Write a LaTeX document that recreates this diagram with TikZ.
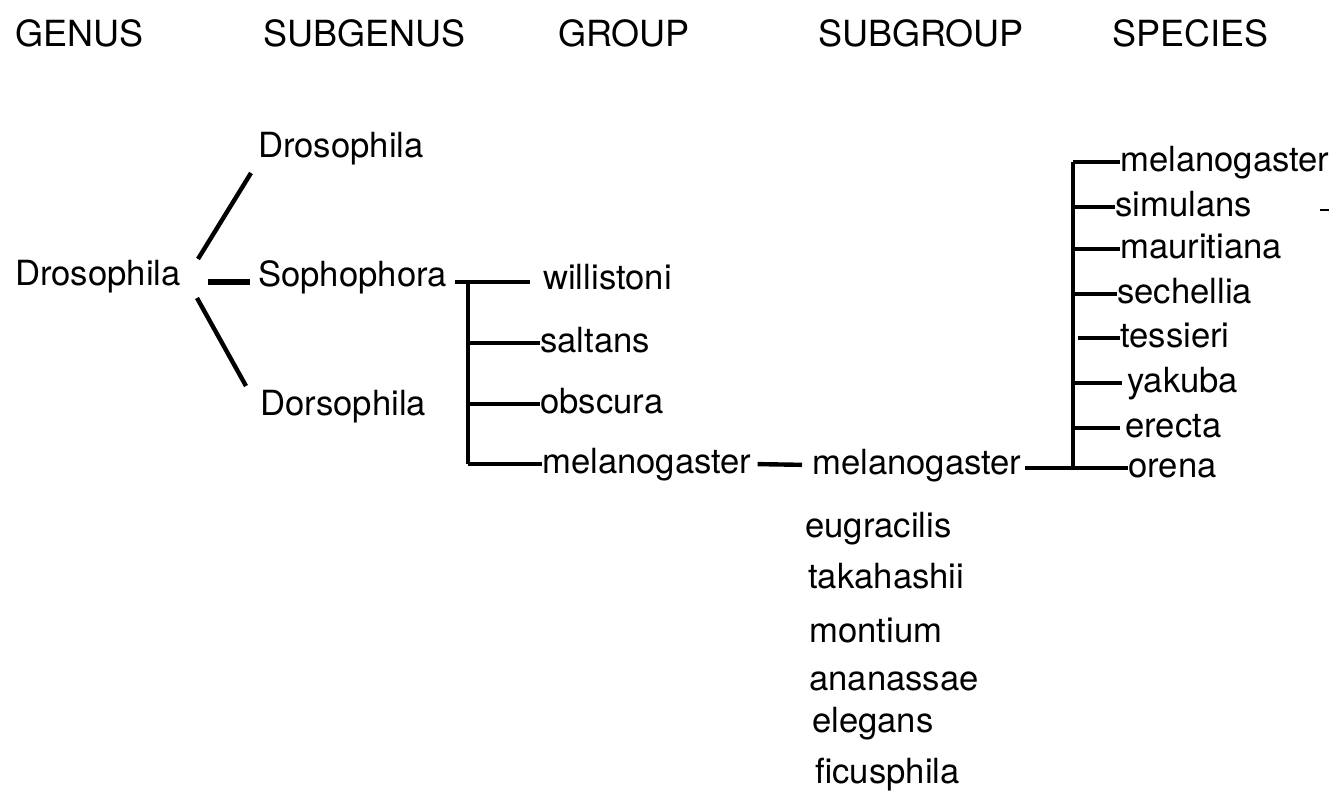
\documentclass[tikz,border=0pt]{standalone}
\usepackage{fontspec}
\setmainfont{TeX Gyre Heros}
\usetikzlibrary{positioning, calc}

\begin{document}
\fontsize{26}{30}\selectfont
\begin{tikzpicture}[x=0.75pt, y=-0.75pt,
  hdr/.style={anchor=base west, inner sep=0pt, font=\fontsize{27}{30}\selectfont},
  taxon/.style={anchor=mid west, inner sep=0pt, font=\fontsize{26}{30}\selectfont},
  twig/.style={line width=2.3pt},
  limb/.style={line width=3.3pt},
  trunk/.style={line width=5pt}
]
  \useasboundingbox (0,0) rectangle (1343,790);

  \node[hdr] (hGen) at (15,46)   {GENUS};
  \node[hdr] (hSgn) at (263,46)  {SUBGENUS};
  \node[hdr] (hGrp) at (558,46)  {GROUP};
  \node[hdr] (hSgr) at (818,46)  {SUBGROUP};
  \node[hdr] (hSpc) at (1112,46) {SPECIES};

  \node[taxon] (gen)   at (15,276)  {Drosophila};
  \node[taxon] (sgDro) at (258,148) {Drosophila};
  \node[taxon] (sgSop) at (258,277) {Sophophora};
  \node[taxon] (sgDor) at (260,406) {Dorsophila};

  \coordinate (upA) at (198,259);  \coordinate (upB) at (251,173);
  \coordinate (dnA) at (197,298);  \coordinate (dnB) at (246,386);
  \coordinate (brA) at (208,282);  \coordinate (brB) at (250,282);
  \draw[limb] (upA) -- (upB);
  \draw[limb] (dnA) -- (dnB);
  \draw[trunk] (brA) -- (brB);

  \node[taxon] (grWil) at (543,280) {willistoni};
  \node[taxon] (grSal) at (540,343) {saltans};
  \node[taxon] (grObs) at (540,404) {obscura};
  \node[taxon] (grMel) at (542,464) {melanogaster};

  \coordinate (grA)   at (455,282);
  \coordinate (grB)   at (530,282);
  \coordinate (grBar) at (468,282);
  \draw[twig] (grA) -- (grB);
  \draw[twig] (grBar) -- (grBar |- grMel.mid west);
  \draw[twig] (grBar |- grSal.mid west) -- (grSal.mid west);
  \draw[twig] (grBar |- grObs.mid west) -- (grObs.mid west);
  \draw[limb] (grBar |- grMel.mid west) -- (grMel.mid west);

  \node[taxon] (sbMel) at (812,465) {melanogaster};
  \node[taxon] (sbEug) at (805,528) {eugracilis};
  \node[taxon] (sbTak) at (808,579) {takahashii};
  \node[taxon] (sbMon) at (809,633) {montium};
  \node[taxon] (sbAna) at (809,681) {ananassae};
  \node[taxon] (sbEle) at (812,723) {elegans};
  \node[taxon] (sbFic) at (815,774) {ficusphila};

  \draw[limb, shorten <=4.5pt, shorten >=7.5pt] (grMel.mid east) -- (sbMel.mid west);

  \node[taxon] (spMel) at (1120,162) {melanogaster};
  \node[taxon] (spSim) at (1115,207) {simulans};
  \node[taxon] (spMau) at (1120,249) {mauritiana};
  \node[taxon] (spSec) at (1117,294) {sechellia};
  \node[taxon] (spTes) at (1120,338) {tessieri};
  \node[taxon] (spYak) at (1127,383) {yakuba};
  \node[taxon] (spEre) at (1125,428) {erecta};
  \node[taxon] (spOre) at (1128,468) {orena};

  \coordinate (spTop) at (1073,162);
  \coordinate (sbEnd) at (1025,468);
  \draw[limb] (spTop) -- (spTop |- spOre.mid west);
  \draw[twig] (sbEnd) -- (spOre.mid west);
  \draw[twig] (spTop) -- (spMel.mid west);
  \draw[twig] (spTop |- spSim.mid west) -- (spSim.mid west);
  \draw[twig] (spTop |- spMau.mid west) -- (spMau.mid west);
  \draw[twig] (spTop |- spSec.mid west) -- (spSec.mid west);
  \draw[twig, shorten <=3.5pt] (spTop |- spTes.mid west) -- (spTes.mid west);
  \draw[twig, shorten >=3.5pt] (spTop |- spYak.mid west) -- (spYak.mid west);
  \draw[twig, shorten >=4pt] (spTop |- spEre.mid west) -- (spEre.mid west);

  \draw[line width=1.5pt] (1320,210) -- (1329,210);
\end{tikzpicture}
\end{document}
